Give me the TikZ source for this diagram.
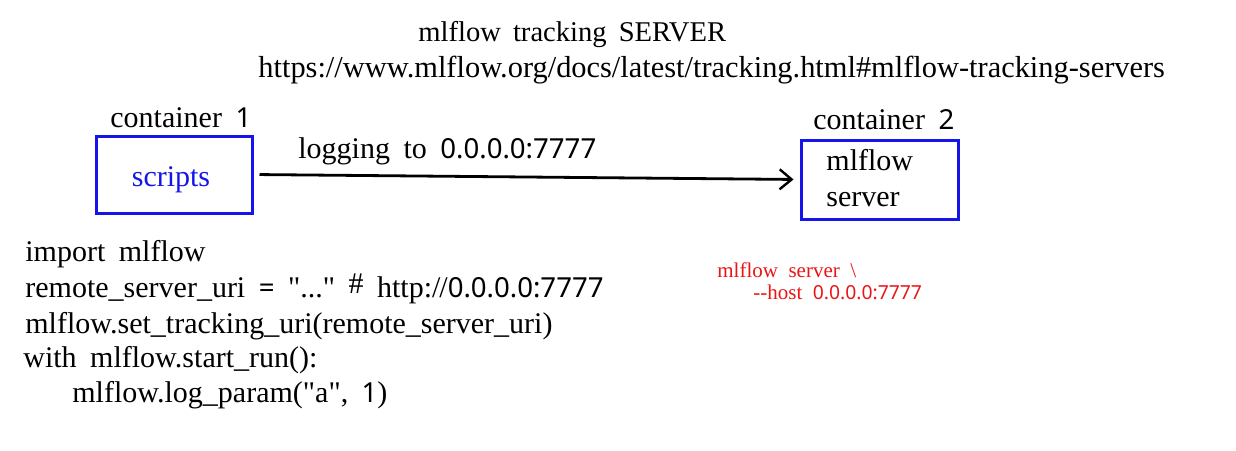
\documentclass[tikz,border=0pt]{standalone}
\usepackage{fontspec}
\setmainfont{Liberation Serif}
\newfontfamily\dg[Scale=0.92]{Noto Sans}
\usetikzlibrary{arrows.meta}
\definecolor{boxblue}{RGB}{20,20,235}
\definecolor{redtxt}{RGB}{235,20,20}
\newcommand{\qq}{\textquotedbl}
\newcommand{\setws}[1]{\spaceskip #1\relax}
\tikzset{
  txt/.style={anchor=base west, inner sep=0pt, font=\fontsize{15}{17}\selectfont\setws{0.45em}},
  ttl/.style={anchor=base west, inner sep=0pt, font=\fontsize{14.3}{17}\selectfont\setws{0.42em}},
  small/.style={anchor=base west, inner sep=0pt, font=\fontsize{10.5}{12}\selectfont\setws{0.5em}, text=redtxt},
  cbox/.style={draw=boxblue, line width=1.5pt, inner sep=0pt},
  conn/.style={line width=1.4pt, -{Straight Barb[length=6pt,width=10pt,line width=1.2pt]}, shorten <=3pt, shorten >=3pt}
}
\begin{document}
\begin{tikzpicture}[x=0.5pt,y=-0.5pt]
\useasboundingbox (0,0) rectangle (1236,450);
\node[ttl] (title) at (418,41) {mlflow tracking SERVER};
\node[anchor=base west, inner sep=0pt, font=\fontsize{15.2}{17}\selectfont] (url) at (258,77) {https://www.mlflow.org/docs/latest/tracking.html\#mlflow-tracking-servers};
\node[txt] (c1) at (110,127) {container {\dg 1}};
\node[cbox, minimum width=78pt, minimum height=38.5pt] (b1) at (174,174.5) {};
\node[anchor=base, inner sep=0pt, font=\fontsize{15}{17}\selectfont, text=boxblue] (scr) at (171,186) {scripts};
\node[txt] (lab) at (298,158) {logging to {\dg 0.0.0.0:7777}};
\node[txt] (c2) at (813,129) {container {\dg 2}};
\node[cbox, minimum width=78.5pt, minimum height=39.5pt] (b2) at (879.5,179.5) {};
\node[txt] (m1) at (826,170) {mlflow};
\node[txt] (m2) at (826,206) {server};
\draw[conn] (b1.east) -- (b2.west);
\node[txt] (l1) at (25,261) {import mlflow};
\node[txt] (l2) at (25,297) {remote\_server\_uri {\dg =} \qq...\qq\ \raisebox{2pt}{\#} http:/\kern-0.5pt/{\dg 0.0.0.0:7777}};
\node[txt] (l3) at (25,333) {mlflow.set\_tracking\_uri(remote\_server\_uri)};
\node[txt] (l4) at (23,367) {with mlflow.start\_run():};
\node[txt] (l5) at (72,402) {mlflow.log\_param(\qq a\qq, {\dg 1})};
\node[small] (r1) at (717,277) {mlflow server \textbackslash};
\node[small] (r2) at (753,299) {-{}-host {\dg 0.0.0.0:7777}};
\end{tikzpicture}
\end{document}
